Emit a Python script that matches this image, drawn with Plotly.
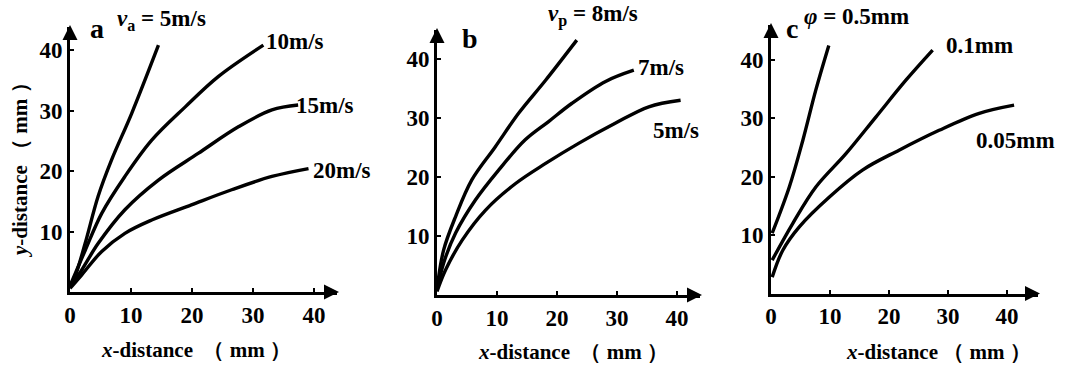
import plotly.graph_objects as go

# ---------------- data ----------------
# Panel a: spray velocity v_a
a5_x = [0.0, 0.8, 2.5, 4.6, 6.8, 10.1, 14.5]
a5_y = [1.0, 2.5, 8.1, 15.8, 21.8, 29.5, 40.8]
a10_x = [0.0, 2.5, 5.2, 9.0, 13.4, 18.9, 24.3, 31.7]
a10_y = [1.0, 6.9, 13.0, 19.1, 25.1, 30.6, 35.6, 40.8]
a15_x = [0.0, 1.9, 4.6, 9.0, 14.5, 21.0, 27.6, 33.1, 37.4]
a15_y = [0.8, 3.6, 8.0, 13.6, 18.5, 22.9, 27.3, 30.1, 30.9]
a20_x = [0.0, 1.9, 5.2, 9.0, 13.4, 19.9, 26.5, 33.1, 39.1]
a20_y = [0.6, 2.8, 6.7, 9.7, 11.9, 14.4, 16.9, 19.1, 20.4]

# Panel b: v_p
b8_x = [0.0, 1.1, 3.1, 5.8, 9.7, 13.6, 18.1, 23.3]
b8_y = [1.0, 7.6, 13.3, 19.5, 25.1, 30.8, 36.4, 43.2]
b7_x = [0.0, 1.1, 3.1, 6.4, 10.3, 14.7, 18.6, 22.5, 28.1, 32.8]
b7_y = [0.8, 5.4, 10.5, 16.1, 21.2, 26.3, 29.4, 32.5, 36.2, 38.1]
b5_x = [0.0, 1.4, 4.2, 8.1, 13.1, 18.1, 23.6, 29.7, 35.3, 40.6]
b5_y = [0.6, 4.2, 9.3, 14.4, 18.9, 22.3, 25.7, 29.1, 31.9, 33.0]

# Panel c: particle diameter
c05_x = [0.2, 3.1, 5.4, 7.6, 9.8]
c05_y = [10.3, 18.2, 26.2, 34.8, 42.4]
c01_x = [0.2, 3.7, 7.6, 12.7, 17.8, 22.9, 27.4]
c01_y = [5.7, 12.0, 18.2, 23.9, 30.2, 36.5, 41.6]
c005_x = [0.2, 2.0, 4.8, 9.9, 15.5, 21.7, 28.5, 35.3, 41.2]
c005_y = [2.8, 7.4, 11.4, 16.5, 21.1, 24.5, 27.9, 30.8, 32.2]

tick_vals = [0, 10, 20, 30, 40]
tick_text = ["0", "10", "20", "30", "40"]

W, H = 1080, 365
FONT = "Liberation Serif"


def px(x):
    return x / W


def py(y):
    return (H - y) / H


fig = go.Figure()

line = dict(color="black", width=3.4, shape="spline", smoothing=1.0)

series = [
    ("x", "y", a5_x, a5_y), ("x", "y", a10_x, a10_y),
    ("x", "y", a15_x, a15_y), ("x", "y", a20_x, a20_y),
    ("x2", "y2", b8_x, b8_y), ("x2", "y2", b7_x, b7_y), ("x2", "y2", b5_x, b5_y),
    ("x3", "y3", c05_x, c05_y), ("x3", "y3", c01_x, c01_y), ("x3", "y3", c005_x, c005_y),
]
for xa, ya, xs, ys in series:
    fig.add_trace(go.Scatter(x=xs, y=ys, mode="lines", line=line,
                             xaxis=xa, yaxis=ya, showlegend=False, hoverinfo="skip"))

# panel geometry in pixels: (x0px, x_end_px, px_per_unit_x, y0px, y_top_px, px_per_unit_y)
panels = [
    (70, 337, 6.1, 292, 27, 6.05),
    (437, 700, 6.0, 295, 30, 5.9),
    (771, 1038, 5.9, 293.5, 25, 5.85),
]

tickfont = dict(family=FONT, size=23, color="black")
bold_ticks = ["<b>" + t + "</b>" for t in tick_text]
layout = {}
for i, (x0, x1, sx, y0, y1, sy) in enumerate(panels):
    sfx = "" if i == 0 else str(i + 1)
    layout["xaxis" + sfx] = dict(
        domain=[px(x0), px(x1)], range=[0, (x1 - x0) / sx],
        anchor="y" + sfx, showline=True, linecolor="black", linewidth=3,
        showgrid=False, zeroline=False, ticks="inside", ticklen=4, tickwidth=2,
        tickcolor="black", tickvals=tick_vals, ticktext=bold_ticks,
        tickfont=tickfont, fixedrange=True, ticklabelstandoff=0,
        automargin=False,
    )
    layout["yaxis" + sfx] = dict(
        domain=[py(y0), py(y1)], range=[0, (y0 - y1) / sy],
        anchor="x" + sfx, showline=True, linecolor="black", linewidth=3,
        showgrid=False, zeroline=False, ticks="inside", ticklen=4, tickwidth=2,
        tickcolor="black", tickvals=tick_vals[1:], ticktext=bold_ticks[1:],
        tickfont=tickfont, fixedrange=True, ticklabelstandoff=0,
        automargin=False,
    )

fig.update_layout(
    width=W, height=H, margin=dict(l=0, r=0, t=0, b=0, autoexpand=False),
    paper_bgcolor="white", plot_bgcolor="white", **layout
)

ann = []
# arrowheads at axis ends
for (x0, x1, sx, y0, y1, sy) in panels:
    ann.append(dict(x=px(x1 + 2), y=py(y0), xref="paper", yref="paper", text="",
                    showarrow=True, arrowhead=2, arrowsize=1.2, arrowwidth=2.5,
                    arrowcolor="black", ax=-14, ay=0))
    ann.append(dict(x=px(x0), y=py(y1 - 2), xref="paper", yref="paper", text="",
                    showarrow=True, arrowhead=2, arrowsize=1.2, arrowwidth=2.5,
                    arrowcolor="black", ax=0, ay=14))


def txt(x, y, s, size=23, xanchor="left", bold=True):
    t = "<b>" + s + "</b>" if bold else s
    ann.append(dict(x=px(x), y=py(y), xref="paper", yref="paper", text=t,
                    showarrow=False, xanchor=xanchor, yanchor="middle",
                    align=xanchor if xanchor != "center" else "center",
                    borderpad=0,
                    font=dict(family=FONT, size=size, color="black")))


# panel letters
txt(97, 28, "a", size=28, xanchor="center")
txt(470, 38, "b", size=28, xanchor="center")
txt(792, 28, "c", size=28, xanchor="center")

# curve labels
txt(116, 20, "<i>v</i><sub>a</sub> = 5m/s")
txt(265, 42, "10m/s")
txt(295, 105, "15m/s")
txt(312, 170, "20m/s")
txt(547, 15, "<i>v</i><sub>p</sub> = 8m/s")
txt(637, 67, "7m/s")
txt(652, 130, "5m/s")
txt(803, 16, "<i>φ</i> = 0.5mm")
txt(945, 45, "0.1mm")
txt(975, 140, "0.05mm")

# axis titles
txt(196, 350, "<i>x</i>-distance  （ mm ）", size=21, xanchor="center")
txt(573, 352, "<i>x</i>-distance  （ mm ）", size=21, xanchor="center")
txt(938, 352, "<i>x</i>-distance （ mm ）", size=21, xanchor="center")
ann.append(dict(x=px(20), y=py(165), xref="paper", yref="paper",
                text="<b><i>y</i>-distance （ mm ）</b>", showarrow=False,
                textangle=-90, xanchor="center", yanchor="middle",
                font=dict(family=FONT, size=21, color="black")))

fig.update_layout(annotations=ann)
fig.write_html(
    "out.html",
    config={"displayModeBar": False},
    post_script="document.body.style.margin='0';document.body.style.padding='0';"
                "document.body.style.overflow='hidden';",
)
